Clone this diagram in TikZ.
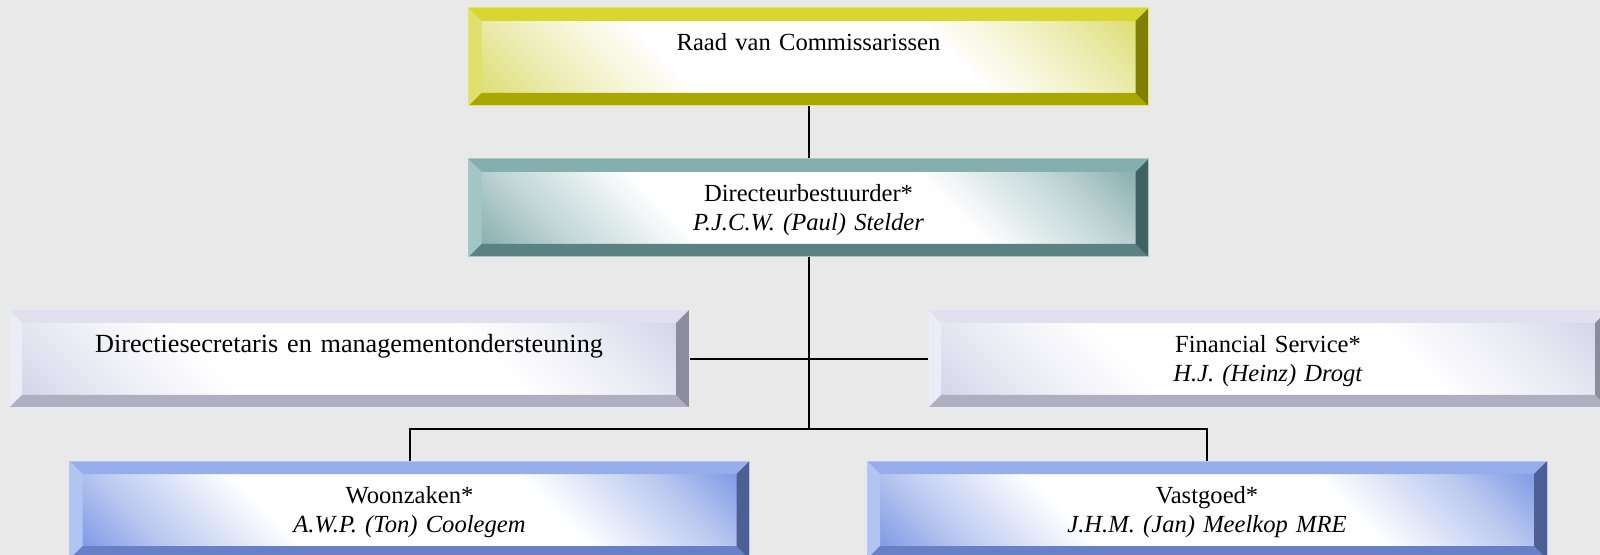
\documentclass[tikz,border=0pt]{standalone}
\usepackage{fontspec}
\setmainfont{Liberation Serif}

\definecolor{achtergrond}{RGB}{233,233,233}
% bevel colours: T top, L left, B bottom, R right, S inner tint
\definecolor{geelT}{RGB}{215,215,48}
\definecolor{geelL}{RGB}{224,224,110}
\definecolor{geelB}{RGB}{168,168,0}
\definecolor{geelR}{RGB}{127,127,0}
\definecolor{geelS}{RGB}{222,222,120}
\definecolor{groenT}{RGB}{133,175,175}
\definecolor{groenL}{RGB}{162,198,198}
\definecolor{groenB}{RGB}{90,130,130}
\definecolor{groenR}{RGB}{63,97,97}
\definecolor{groenS}{RGB}{140,178,178}
\definecolor{lilaT}{RGB}{224,224,238}
\definecolor{lilaL}{RGB}{236,236,246}
\definecolor{lilaB}{RGB}{175,175,194}
\definecolor{lilaR}{RGB}{140,140,158}
\definecolor{lilaS}{RGB}{214,214,234}
\definecolor{blauwT}{RGB}{149,173,234}
\definecolor{blauwL}{RGB}{178,197,242}
\definecolor{blauwB}{RGB}{104,129,198}
\definecolor{blauwR}{RGB}{78,95,147}
\definecolor{blauwS}{RGB}{132,158,230}

% inner panel: tint in two corners, white band between
\colorlet{vlaktint}{white}
\pgfdeclareverticalshading[vlaktint]{vlak}{100bp}{color(0bp)=(vlaktint); color(15bp)=(vlaktint);
  color(23bp)=(vlaktint!55!white); color(36bp)=(white); color(64bp)=(white);
  color(77bp)=(vlaktint!55!white); color(85bp)=(vlaktint); color(100bp)=(vlaktint)}

\newcommand{\boxfont}{\fontsize{12.3}{14.3}\selectfont}

\begin{document}
\begin{tikzpicture}[node distance=75.5pt,
  orgbox/.style={rectangle, minimum width=340pt, minimum height=49pt, inner sep=0pt,
    text width=320pt, align=center, font=\boxfont, fill=#1T, draw=#1T!70!white, line width=0.5pt,
    execute at begin node={\rule{0pt}{10.5pt}},
    path picture={
      \coordinate (nw) at (path picture bounding box.north west);
      \coordinate (ne) at (path picture bounding box.north east);
      \coordinate (sw) at (path picture bounding box.south west);
      \coordinate (se) at (path picture bounding box.south east);
      \colorlet{vlaktint}{#1S}
      \shade[shading=vlak, shading angle=-45]
        ([shift={(6.5pt,-6.5pt)}]nw) rectangle ([shift={(-6.5pt,6.5pt)}]se);
      \fill[#1T] (nw) -- (ne) -- ([shift={(-6.5pt,-6.5pt)}]ne) -- ([shift={(6.5pt,-6.5pt)}]nw) -- cycle;
      \fill[#1L] (nw) -- ([shift={(6.5pt,-6.5pt)}]nw) -- ([shift={(6.5pt,6.5pt)}]sw) -- (sw) -- cycle;
      \fill[#1B] (sw) -- ([shift={(6.5pt,6.5pt)}]sw) -- ([shift={(-6.5pt,6.5pt)}]se) -- (se) -- cycle;
      \fill[#1R] (se) -- ([shift={(-6.5pt,6.5pt)}]se) -- ([shift={(-6.5pt,-6.5pt)}]ne) -- (ne) -- cycle;
    }},
  link/.style={line width=1pt}]
   \useasboundingbox (0,0) rectangle (800pt,-277.5pt);
   \fill[achtergrond] (0,0) rectangle (800pt,-277.5pt);

   \node[orgbox=geel] (raad) at (404.25pt,-28.5pt) {Raad van Commissarissen\\\phantom{()}};
   \node[orgbox=groen, below of=raad] (dir) {Directeurbestuurder*\\\textit{P.J.C.W. (Paul) Stelder}};
   \node[orgbox=lila, below of=dir, xshift=-229.75pt, font=\fontsize{13.1}{14.3}\selectfont] (secr) {Directiesecretaris en managementondersteuning\\\phantom{()}};
   \node[orgbox=lila, below of=dir, xshift=229.75pt] (fin) {Financial Service*\\\textit{H.J. (Heinz) Drogt}};
   \node[orgbox=blauw, below of=secr, xshift=30.25pt] (woon) {Woonzaken*\\\textit{A.W.P. (Ton) Coolegem}};
   \node[orgbox=blauw, below of=fin, xshift=-30.5pt] (vast) {Vastgoed*\\\textit{J.H.M. (Jan) Meelkop MRE}};
   \coordinate[below of=dir, node distance=110.5pt] (split);

   \draw[link] (raad) -- (dir);
   \draw[link] (secr) -- (fin);
   \draw[link] (dir) -- (split);
   \draw[link] (woon) |- (split) -| (vast);
\end{tikzpicture}
\end{document}
